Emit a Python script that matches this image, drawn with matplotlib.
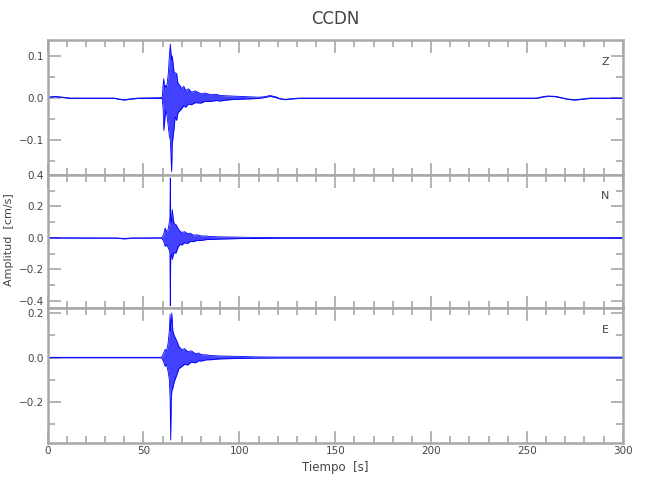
import matplotlib
matplotlib.use("Agg")
import matplotlib.pyplot as plt
from matplotlib.ticker import MultipleLocator, FuncFormatter

# envelope of each component: time [s], upper, lower [cm/s]
t_z = [0, 4, 8, 12, 35, 37, 40, 43, 47, 59.8, 60.3, 60.6, 61.0, 61.5, 62.0, 62.5, 63.0,
       63.5, 64.0, 64.3, 64.7, 65.0, 65.5, 66.0, 66.5, 67.3, 68, 69, 70, 71, 72, 73.5, 75,
       77, 80, 82, 85, 88, 90, 95, 100, 105, 110, 113, 116, 119, 121, 124, 128, 132, 255,
       258, 261, 265, 268, 271, 275, 279, 283, 300]
up_z = [0.002, 0.004, 0.002, 0.0, 0.0, -0.002, -0.004, -0.002, 0.0, 0.001, 0.035, 0.046,
        0.02, 0.03, 0.025, 0.04, 0.06, 0.1, 0.128, 0.11, 0.09, 0.1, 0.08, 0.06, 0.06, 0.058,
        0.035, 0.03, 0.022, 0.028, 0.018, 0.022, 0.014, 0.017, 0.01, 0.012, 0.008, 0.009,
        0.006, 0.005, 0.004, 0.003, 0.002, 0.003, 0.006, 0.003, -0.001, -0.003, -0.001, 0.0,
        0.0, 0.003, 0.005, 0.004, 0.001, -0.002, -0.004, -0.002, 0.0, 0.0]
lo_z = [0.001, 0.003, 0.001, -0.001, -0.001, -0.003, -0.005, -0.003, -0.001, -0.001, -0.03,
        -0.077, -0.06, -0.03, -0.035, -0.05, -0.07, -0.09, -0.1, -0.13, -0.175, -0.11, -0.09,
        -0.07, -0.045, -0.053, -0.035, -0.03, -0.025, -0.018, -0.022, -0.014, -0.016, -0.011,
        -0.012, -0.008, -0.008, -0.006, -0.007, -0.004, -0.003, -0.002, -0.001, 0.001, 0.004,
        0.001, -0.002, -0.004, -0.002, -0.001, -0.001, 0.002, 0.004, 0.003, 0.0, -0.003,
        -0.005, -0.003, -0.001, -0.001]

t_n = [0, 5, 36, 40, 44, 59.5, 60.5, 61.3, 62.0, 62.8, 63.5, 63.8, 64.0, 64.2, 64.5, 65.0,
       65.5, 66.0, 67.0, 68, 69, 70, 71.5, 73, 74.5, 76, 78, 80, 83, 85, 90, 100, 110, 120,
       300]
up_n = [0.002, 0.001, 0.0, -0.003, 0.0, 0.001, 0.02, 0.063, 0.04, 0.05, 0.1, 0.12, 0.381,
        0.12, 0.1, 0.18, 0.127, 0.09, 0.085, 0.06, 0.045, 0.035, 0.04, 0.028, 0.03, 0.018,
        0.02, 0.013, 0.012, 0.009, 0.007, 0.005, 0.003, 0.002, 0.002]
lo_n = [0.0, -0.001, -0.002, -0.006, -0.002, -0.001, -0.02, -0.053, -0.045, -0.06, -0.08,
        -0.1, -0.43, -0.12, -0.1, -0.138, -0.11, -0.095, -0.095, -0.06, -0.04, -0.045, -0.03,
        -0.035, -0.022, -0.024, -0.015, -0.016, -0.01, -0.01, -0.007, -0.004, -0.003, -0.002,
        -0.002]

t_e = [0, 59.5, 60.5, 61.3, 62.0, 62.8, 63.5, 63.9, 64.2, 64.5, 64.8, 65.3, 66.0, 67.4,
       68.5, 70, 71.5, 73, 75, 77, 79, 80, 83, 85, 90, 100, 108, 120, 300]
up_e = [0.001, 0.001, 0.02, 0.036, 0.03, 0.06, 0.12, 0.194, 0.12, 0.15, 0.2, 0.12, 0.1,
        0.074, 0.05, 0.035, 0.04, 0.026, 0.03, 0.018, 0.02, 0.013, 0.012, 0.009, 0.007,
        0.005, 0.003, 0.002, 0.002]
lo_e = [-0.001, -0.001, -0.02, -0.039, -0.03, -0.06, -0.1, -0.18, -0.37, -0.18, -0.15,
        -0.137, -0.11, -0.077, -0.05, -0.04, -0.03, -0.034, -0.02, -0.024, -0.014, -0.016,
        -0.01, -0.01, -0.006, -0.004, -0.003, -0.002, -0.002]

components = ["Z", "N", "E"]
ylims = [(-0.183, 0.138), (-0.445, 0.40), (-0.383, 0.222)]
ymajor = [0.1, 0.2, 0.2]
yminor = [0.05, 0.1, 0.1]

grey = '#a8a8a8'
txt = '#444444'


def fmt(v, pos):
    s = '%.1f' % v
    if s == '-0.0':
        s = '0.0'
    return s.replace('-', '\u2212')


fig = plt.figure(figsize=(6.5, 5), dpi=100)
boxes = [[0.0732, 0.65, 0.885, 0.27],
         [0.0732, 0.384, 0.885, 0.266],
         [0.0732, 0.114, 0.885, 0.27]]
data = [(t_z, up_z, lo_z), (t_n, up_n, lo_n), (t_e, up_e, lo_e)]

for i, (box, (t, up, lo)) in enumerate(zip(boxes, data)):
    ax = fig.add_axes(box)
    ax.fill_between(t, lo, up, color='#2020ff', alpha=0.85, linewidth=0)
    ax.plot(t, up, color='#0000ff', lw=0.6)
    ax.plot(t, lo, color='#0000ff', lw=0.6)
    ax.set_xlim(0, 300)
    ax.set_ylim(*ylims[i])
    ax.xaxis.set_major_locator(MultipleLocator(50))
    ax.xaxis.set_minor_locator(MultipleLocator(10))
    ax.yaxis.set_major_locator(MultipleLocator(ymajor[i]))
    ax.yaxis.set_minor_locator(MultipleLocator(yminor[i]))
    ax.yaxis.set_major_formatter(FuncFormatter(fmt))
    ax.tick_params(which='both', direction='in', top=True, right=True,
                   color=grey, width=1.2, labelcolor=txt, labelsize=7.5, pad=2.5)
    ax.tick_params(which='major', length=9)
    ax.tick_params(which='minor', length=5)
    for s in ax.spines.values():
        s.set_color(grey)
        s.set_linewidth(1.8)
    if i < 2:
        ax.tick_params(labelbottom=False)
    ax.text(0.969, 0.84, components[i], transform=ax.transAxes, ha='center',
            va='center', fontsize=8, color=txt)

fig.text(0.516, 0.963, "CCDN", ha='center', va='center', fontsize=12, color=txt)
fig.text(0.516, 0.066, "Tiempo  [s]", ha='center', va='center', fontsize=8.5, color=txt)
fig.text(0.014, 0.52, "Amplitud  [cm/s]", ha='center', va='center', rotation=90,
         fontsize=8, color=txt)

fig.savefig("out.png", dpi=100)
